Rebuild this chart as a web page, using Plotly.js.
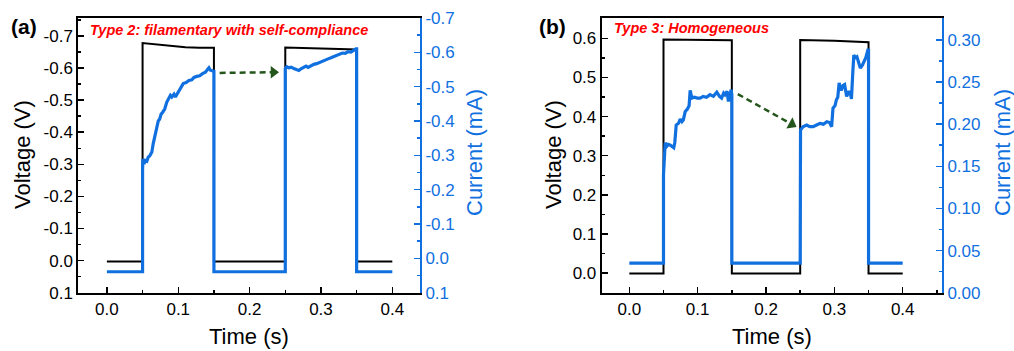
<!DOCTYPE html>
<html><head><meta charset="utf-8">
<script src="https://cdn.plot.ly/plotly-3.0.1.min.js"></script>
<style>html,body{margin:0;padding:0;background:#fff}#chart{width:1014px;height:351px}</style>
</head><body><div id="chart"></div>
<script>
// ---------- data ----------
const timeTicks = [0, 0.1, 0.2, 0.3, 0.4];
const timeTickText = ["0.0", "0.1", "0.2", "0.3", "0.4"];

const aTicks = [-0.7, -0.6, -0.5, -0.4, -0.3, -0.2, -0.1, 0, 0.1];
const aTickText = ["-0.7", "-0.6", "-0.5", "-0.4", "-0.3", "-0.2", "-0.1", "0.0", "0.1"];
const bVoltTicks = [0, 0.1, 0.2, 0.3, 0.4, 0.5, 0.6];
const bVoltTickText = ["0.0", "0.1", "0.2", "0.3", "0.4", "0.5", "0.6"];
const bCurrTicks = [0, 0.05, 0.1, 0.15, 0.2, 0.25, 0.3];
const bCurrTickText = ["0.00", "0.05", "0.10", "0.15", "0.20", "0.25", "0.30"];

const timeTitle = "Time (s)";
const voltTitle = "Voltage (V)";
const currTitle = "Current (mA)";

// Panel (a) voltage (V)
const aVoltT = [0, 0.05, 0.05, 0.07, 0.09, 0.11, 0.13, 0.15, 0.15, 0.25, 0.25, 0.3, 0.35, 0.35, 0.4];
const aVolt  = [0.003, 0.003, -0.678, -0.673, -0.668, -0.665, -0.663, -0.663, 0.003, 0.003, -0.664, -0.661, -0.658, 0.003, 0.003];
// Panel (a) current (mA)
const aCurrT = [0, 0.05, 0.05, 0.0505, 0.052, 0.054, 0.056, 0.058, 0.060, 0.063, 0.065, 0.067, 0.070, 0.072, 0.074, 0.076, 0.078, 0.081, 0.084, 0.087, 0.089, 0.091, 0.094, 0.096, 0.098, 0.101, 0.104, 0.107, 0.111, 0.115, 0.119, 0.122, 0.126, 0.130, 0.134, 0.138, 0.141, 0.143, 0.145, 0.148, 0.15, 0.15,
  0.25, 0.25, 0.252, 0.255, 0.258, 0.262, 0.266, 0.269, 0.272, 0.275, 0.279, 0.282, 0.286, 0.290, 0.294, 0.298, 0.302, 0.306, 0.310, 0.314, 0.318, 0.322, 0.326, 0.330, 0.334, 0.338, 0.342, 0.346, 0.349, 0.35, 0.35, 0.4];
const aCurr  = [0.039, 0.039, -0.26, -0.29, -0.275, -0.285, -0.283, -0.295, -0.298, -0.31, -0.335, -0.357, -0.38, -0.40, -0.406, -0.42, -0.425, -0.435, -0.455, -0.465, -0.475, -0.47, -0.478, -0.47, -0.478, -0.49, -0.50, -0.509, -0.512, -0.518, -0.52, -0.527, -0.53, -0.532, -0.538, -0.542, -0.55, -0.555, -0.548, -0.545, -0.545, 0.039,
  0.039, -0.553, -0.558, -0.555, -0.557, -0.553, -0.549, -0.547, -0.552, -0.555, -0.56, -0.556, -0.561, -0.565, -0.567, -0.571, -0.574, -0.578, -0.581, -0.584, -0.588, -0.591, -0.594, -0.598, -0.597, -0.602, -0.601, -0.607, -0.61, -0.61, 0.039, 0.039];

// Panel (b) voltage (V)
const bVoltT = [0, 0.05, 0.05, 0.1, 0.15, 0.15, 0.25, 0.25, 0.3, 0.35, 0.35, 0.4];
const bVolt  = [-0.001, -0.001, 0.597, 0.596, 0.595, -0.001, -0.001, 0.596, 0.594, 0.590, -0.001, -0.001];
// Panel (b) current (mA)
const bCurrT = [0, 0.05, 0.05, 0.051, 0.0525, 0.055, 0.057, 0.060, 0.063, 0.065, 0.0665, 0.0686, 0.072, 0.0745, 0.077, 0.079, 0.0818, 0.085, 0.0875, 0.089, 0.0915, 0.095, 0.0995, 0.1036, 0.108, 0.113, 0.118, 0.123, 0.128, 0.132, 0.135, 0.138, 0.14, 0.143, 0.145, 0.147, 0.149, 0.15, 0.15,
  0.25, 0.25, 0.2505, 0.254, 0.2594, 0.264, 0.269, 0.274, 0.279, 0.284, 0.289, 0.293, 0.296, 0.298, 0.301, 0.303, 0.305, 0.307, 0.31, 0.313, 0.315, 0.318, 0.321, 0.323, 0.325, 0.327, 0.3285, 0.331, 0.333, 0.336, 0.338, 0.341, 0.343, 0.346, 0.349, 0.35, 0.35, 0.4];
const bCurr  = [0.035, 0.035, 0.14, 0.168, 0.178, 0.174, 0.176, 0.175, 0.173, 0.172, 0.178, 0.199, 0.201, 0.206, 0.203, 0.205, 0.215, 0.218, 0.222, 0.240, 0.231, 0.232, 0.231, 0.231, 0.233, 0.232, 0.235, 0.233, 0.238, 0.233, 0.231, 0.237, 0.235, 0.239, 0.227, 0.236, 0.241, 0.235, 0.035,
  0.035, 0.188, 0.193, 0.197, 0.199, 0.197, 0.197, 0.199, 0.201, 0.200, 0.203, 0.202, 0.197, 0.219, 0.222, 0.229, 0.232, 0.249, 0.240, 0.246, 0.247, 0.233, 0.238, 0.238, 0.230, 0.262, 0.282, 0.279, 0.280, 0.272, 0.2665, 0.270, 0.274, 0.279, 0.288, 0.288, 0.035, 0.035];

// dashed arrows (time, current)
const aArrowT = [0.158, 0.2335];
const aArrowI = [-0.540, -0.542];
const bArrowT = [0.1587, 0.2377];
const bArrowI = [0.2357, 0.1999];

// ---------- style ----------
const BLUE = "#1170e0";
const GREEN = "#24561b";
const FONT = "Liberation Sans, Arial, sans-serif";

function line(x, y, xa, ya, color, w) {
  return {x: x, y: y, xaxis: xa, yaxis: ya, type: "scatter", mode: "lines",
          line: {color: color, width: w}, hoverinfo: "skip", showlegend: false};
}
function arrow(x, y, xa, ya, ang) {
  return [
    {x: x, y: y, xaxis: xa, yaxis: ya, type: "scatter", mode: "lines",
     line: {color: GREEN, width: 2.5, dash: "6px,4px"}, showlegend: false, hoverinfo: "skip"},
    {x: [x[1]], y: [y[1]], xaxis: xa, yaxis: ya, type: "scatter", mode: "markers",
     marker: {symbol: "triangle-right", size: 11, color: GREEN, angle: ang, line: {width: 0}},
     showlegend: false, hoverinfo: "skip"}
  ];
}

const traces = [
  line(aVoltT, aVolt, "x", "y", "#000", 2),
  line(aCurrT, aCurr, "x", "y2", BLUE, 3.2),
  ...arrow(aArrowT, aArrowI, "x", "y2", 0),
  line(bVoltT, bVolt, "x2", "y3", "#000", 2),
  line(bCurrT, bCurr, "x2", "y4", BLUE, 3.2),
  ...arrow(bArrowT, bArrowI, "x2", "y4", 29)
];

const tickFont = {family: FONT, size: 17, color: "#000"};
const blueTickFont = {family: FONT, size: 17, color: BLUE};

function xAxis(domain, range, anchor) {
  return {domain: domain, range: range, anchor: anchor, showgrid: false, zeroline: false,
    showline: true, linecolor: "#000", linewidth: 2, mirror: true,
    ticks: "inside", ticklen: 6, tickwidth: 1.5, tickcolor: "#000",
    tickmode: "array", tickvals: timeTicks, ticktext: timeTickText, tickfont: tickFont,
    minor: {ticks: "inside", ticklen: 3, tickwidth: 1.5, dtick: 0.05, tick0: 0, tickcolor: "#000"}};
}
function yLeft(domain, range, anchor, vals, text, minorD) {
  return {domain: domain, range: range, anchor: anchor, showgrid: false, zeroline: false,
    showline: true, linecolor: "#000", linewidth: 2,
    ticks: "inside", ticklen: 6, tickwidth: 1.5, tickcolor: "#000",
    tickmode: "array", tickvals: vals, ticktext: text, tickfont: tickFont,
    minor: {ticks: "inside", ticklen: 3, tickwidth: 1.5, dtick: minorD, tick0: 0, tickcolor: "#000"}};
}
function yRight(range, anchor, overlay, vals, text, minorD) {
  return {range: range, anchor: anchor, overlaying: overlay, side: "right", showgrid: false, zeroline: false,
    showline: true, linecolor: BLUE, linewidth: 2,
    ticks: "inside", ticklen: 6, tickwidth: 1.5, tickcolor: BLUE,
    tickmode: "array", tickvals: vals, ticktext: text, tickfont: blueTickFont,
    minor: {ticks: "inside", ticklen: 3, tickwidth: 1.5, dtick: minorD, tick0: 0, tickcolor: BLUE}};
}

// axis titles placed as paper-anchored text (pixel centres / page size)
function ttl(text, px, py, color, rot) {
  return {text: text, xref: "paper", yref: "paper", x: px / 1014, y: 1 - py / 351,
    xanchor: "center", yanchor: "middle", showarrow: false, textangle: rot,
    font: {family: FONT, size: 22, color: color}};
}

const yDom = [0.1661, 0.9487];
const layout = {
  width: 1014, height: 351, margin: {l: 0, r: 0, t: 0, b: 0},
  paper_bgcolor: "#fff", plot_bgcolor: "#fff",
  font: {family: FONT},
  xaxis: xAxis([0.0772, 0.4142], [-0.0401, 0.4388], "y"),
  yaxis: yLeft(yDom, [0.1, -0.756], "x", aTicks, aTickText, 0.05),
  yaxis2: yRight([0.1, -0.7], "x", "y", aTicks, aTickText, 0.05),
  xaxis2: xAxis([0.5934, 0.9290], [-0.0404, 0.4575], "y3"),
  yaxis3: yLeft(yDom, [-0.05, 0.652], "x2", bVoltTicks, bVoltTickText, 0.05),
  yaxis4: yRight([0, 0.326], "x2", "y3", bCurrTicks, bCurrTickText, 0.025),
  annotations: [
    ttl(timeTitle, 249, 336, "#000", 0),
    ttl(timeTitle, 772, 336, "#000", 0),
    ttl(voltTitle, 22, 155, "#000", -90),
    ttl(voltTitle, 553, 155, "#000", -90),
    ttl(currTitle, 474, 153, BLUE, -90),
    ttl(currTitle, 1002, 153, BLUE, -90),
    {text: "<b>(a)</b>", xref: "paper", yref: "paper", x: 9/1014, y: 1 - 26/351, xanchor: "left", yanchor: "middle",
     showarrow: false, font: {family: FONT, size: 21, color: "#000"}},
    {text: "<b>(b)</b>", xref: "paper", yref: "paper", x: 537/1014, y: 1 - 26/351, xanchor: "left", yanchor: "middle",
     showarrow: false, font: {family: FONT, size: 21, color: "#000"}},
    {text: "<b><i>Type 2: filamentary with self-compliance</i></b>", xref: "paper", yref: "paper",
     x: 88/1014, y: 1 - 30/351, xanchor: "left", yanchor: "middle", showarrow: false,
     font: {family: FONT, size: 14.5, color: "#ff0000"}},
    {text: "<b><i>Type 3: Homogeneous</i></b>", xref: "paper", yref: "paper",
     x: 612/1014, y: 1 - 28/351, xanchor: "left", yanchor: "middle", showarrow: false,
     font: {family: FONT, size: 14.5, color: "#ff0000"}}
  ]
};

Plotly.newPlot("chart", traces, layout, {staticPlot: true, displayModeBar: false});
</script>
</body></html>
